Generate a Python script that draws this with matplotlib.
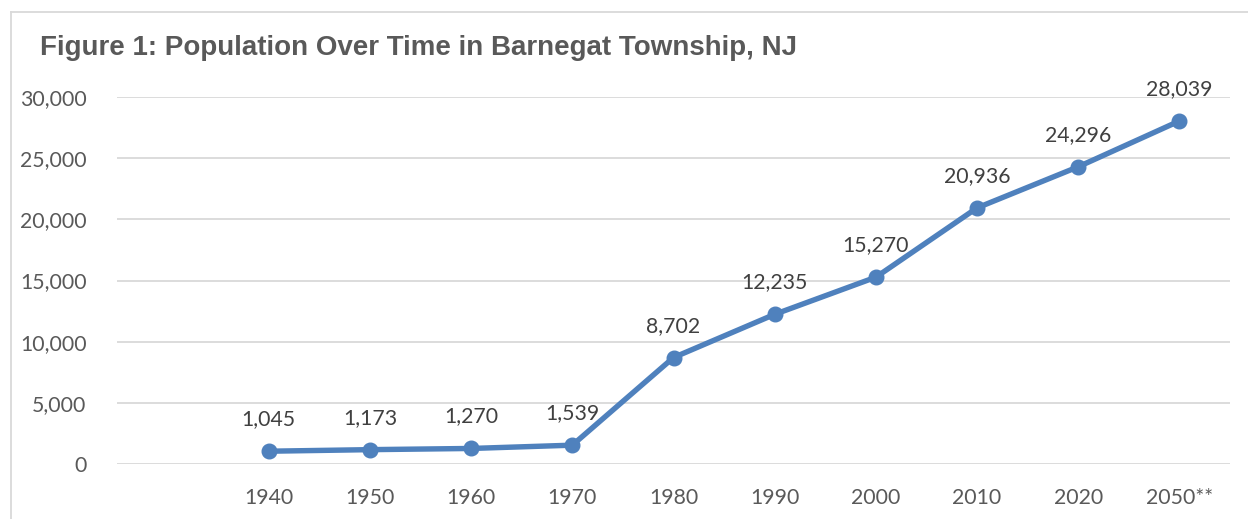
import matplotlib.pyplot as plt
from matplotlib.lines import Line2D

# data
years = ["", "1940", "1950", "1960", "1970", "1980", "1990", "2000", "2010", "2020", "2050**"]
population = [None, 1045, 1173, 1270, 1539, 8702, 12235, 15270, 20936, 24296, 28039]
yticks = [0, 5000, 10000, 15000, 20000, 25000, 30000]

blue = "#4F81BD"
tick_color = "#595959"
label_color = "#404040"
grid_color = "#D9D9D9"
font = ["Lato", "DejaVu Sans"]

fig = plt.figure(figsize=(12.48, 5.19), dpi=100)
ax = fig.add_axes([117 / 1248, 1 - 464 / 519, (1230 - 117) / 1248, (464 - 97) / 519])

xs = list(range(len(years)))
px = [x for x, v in zip(xs, population) if v is not None]
py = [v for v in population if v is not None]
ax.plot(px, py, color=blue, lw=3.9, marker="o", markersize=10.5, solid_capstyle="round", zorder=3)

for x, v in zip(px, py):
    ax.annotate(f"{v:,}", (x, v), xytext=(0, 23), textcoords="offset points",
                ha="center", va="center", fontsize=15.3, color=label_color, family=font)

ax.set_xlim(-0.5, len(years) - 0.5)
ax.set_ylim(0, 30000)
ax.set_xticks(xs)
ax.set_xticklabels(years)
ax.set_yticks(yticks)
ax.set_yticklabels([f"{t:,}" for t in yticks])
ax.tick_params(length=0, labelsize=15.3, labelcolor=tick_color)
ax.tick_params(axis="x", pad=17)
ax.tick_params(axis="y", pad=22)
for lab in ax.get_xticklabels() + ax.get_yticklabels():
    lab.set_family(font)

ax.grid(axis="y", color=grid_color, lw=1.3)
ax.set_axisbelow(True)
for s in ax.spines.values():
    s.set_visible(False)

fig.text(40 / 1248, 1 - 48 / 519, "Figure 1: Population Over Time in Barnegat Township, NJ",
         fontsize=20, fontweight="bold", color=tick_color, family=["Liberation Sans", "DejaVu Sans"],
         ha="left", va="center")

# chart border (top and left only visible)
fig.add_artist(Line2D([11 / 1248, 1], [1 - 12 / 519, 1 - 12 / 519], transform=fig.transFigure, color=grid_color, lw=1.3))
fig.add_artist(Line2D([11 / 1248, 11 / 1248], [0, 1 - 12 / 519], transform=fig.transFigure, color=grid_color, lw=1.3))

fig.savefig("out.png", dpi=100)
